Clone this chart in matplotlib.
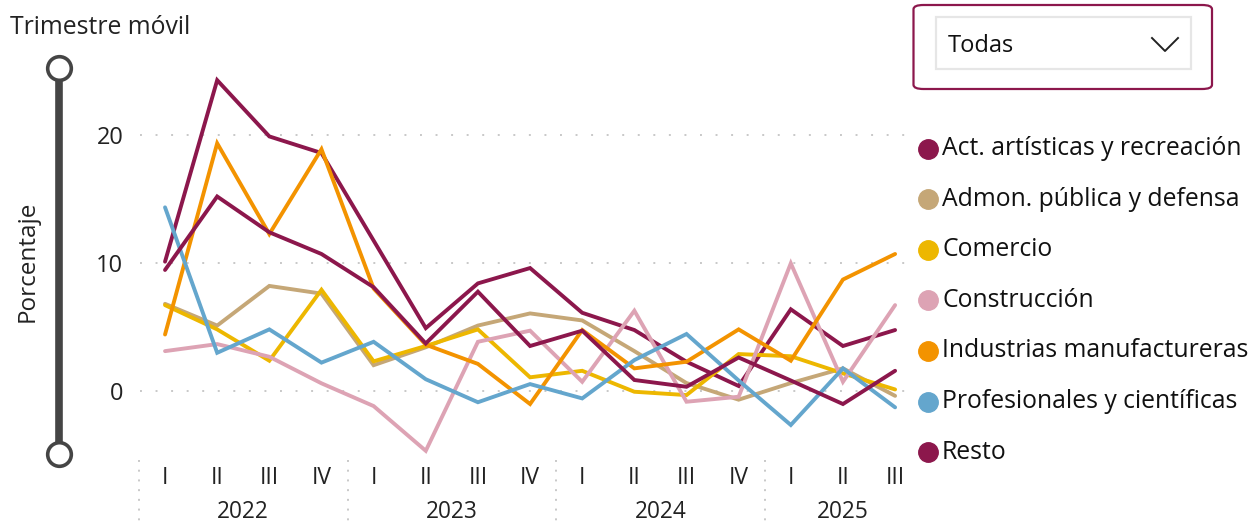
import numpy as np
import matplotlib
matplotlib.use("Agg")
from matplotlib import pyplot as plt
from matplotlib.lines import Line2D
from matplotlib.patches import FancyBboxPatch, Rectangle

plt.rcParams['font.family'] = ['Open Sans', 'DejaVu Sans']

quarters = ['I', 'II', 'III', 'IV'] * 3 + ['I', 'II', 'III']
years = ['2022', '2023', '2024', '2025']

act = [10.1, 24.3, 19.9, 18.6, 11.75, 4.9, 8.4, 9.6, 6.1, 4.75, 2.27, 0.37, 6.37, 3.5, 4.75]
admon = [6.8, 5.1, 8.2, 7.6, 2.0, 3.4, 5.1, 6.05, 5.5, 3.1, 0.6, -0.7, 0.6, 1.75, -0.4]
comercio = [6.7, 4.8, 2.35, 7.9, 2.3, 3.5, 4.8, 1.05, 1.56, -0.08, -0.34, 2.87, 2.7, 1.36, 0.1]
construccion = [3.1, 3.65, 2.66, 0.58, -1.2, -4.7, 3.83, 4.7, 0.7, 6.26, -0.86, -0.47, 9.97, 0.7, 6.7]
industrias = [4.4, 19.36, 12.26, 18.9, 8.0, 3.6, 2.1, -1.04, 4.75, 1.75, 2.27, 4.8, 2.35, 8.7, 10.7]
profesionales = [14.35, 2.97, 4.8, 2.2, 3.83, 0.9, -0.9, 0.52, -0.6, 2.4, 4.44, 0.8, -2.68, 1.75, -1.3]
resto = [9.45, 15.2, 12.4, 10.7, 8.1, 3.7, 7.75, 3.5, 4.7, 0.84, 0.31, 2.6, 0.8, -1.04, 1.56]

names = ['Act. artísticas y recreación', 'Admon. pública y defensa', 'Comercio',
         'Construcción', 'Industrias manufactureras', 'Profesionales y científicas', 'Resto']
series = [act, admon, comercio, construccion, industrias, profesionales, resto]
colors = ['#8C174C', '#C5A777', '#EDB700', '#DDA3B4', '#F39300', '#64A6CD', '#8C174C']

W, H = 1250, 526
fig = plt.figure(figsize=(W / 100, H / 100), dpi=100)


def fx(px):
    return px / W


def fy(py):
    return 1 - py / H


# plot area in pixels: x 140..917, y 60..460
ax = fig.add_axes([fx(140), fy(460), fx(917) - fx(140), fy(60) - fy(460)])
x = np.arange(len(quarters))
for s, c in zip(series, colors):
    ax.plot(x, s, color=c, lw=2.8, solid_joinstyle='miter', solid_capstyle='round')

ax.set_xlim(-0.48, 14.42)
ax.set_ylim(-5.42, 25.88)
ax.set_yticks([0, 10, 20])
ax.set_yticklabels(['0', '10', '20'], fontsize=17, color='#222222')
ax.tick_params(axis='y', length=0, pad=12)
ax.set_xticks(x)
ax.set_xticklabels(quarters, fontsize=16.5, color='#222222')
ax.tick_params(axis='x', length=0, pad=4)
for yv in [0, 10, 20]:
    ax.axhline(yv, color='#c8c8c8', lw=1.4, ls=(0, (1, 7)), zorder=0)
for sp in ax.spines.values():
    sp.set_visible(False)

# year labels and separators
for k, yr in enumerate(years):
    n = 4 if k < 3 else 3
    ax.text(4 * k + (n - 1) / 2, -0.13, yr, transform=ax.get_xaxis_transform(),
            ha='center', va='center', fontsize=16.3, color='#222222')
    ax.plot([4 * k - 0.5, 4 * k - 0.5], [0, -0.17], transform=ax.get_xaxis_transform(),
            color='#c8c8c8', lw=1.4, ls=(0, (1, 4)), clip_on=False)

# slider on the left
fig.add_artist(Line2D([fx(58.5), fx(58.5)], [fy(68), fy(454)], color='#454545', lw=5.5,
                      solid_capstyle='butt'))
for cy in [68, 454]:
    fig.add_artist(Line2D([fx(58.5)], [fy(cy)], marker='o', ms=17, mfc='white',
                          mec='#454545', mew=2.6, ls='none'))
fig.text(fx(10), fy(27), 'Trimestre móvil', ha='left', va='center', fontsize=17.8, color='#222222')
fig.text(fx(28), fy(261), 'Porcentaje', ha='center', va='center', rotation=90,
         fontsize=17.5, color='#222222')

# dropdown
fig.add_artist(FancyBboxPatch((fx(913.5), fy(89)), fx(1212) - fx(913.5), fy(5) - fy(89),
                              boxstyle='round,pad=0,rounding_size=0.008',
                              transform=fig.transFigure, fc='white', ec='#8C174C', lw=1.6))
fig.add_artist(Rectangle((fx(936), fy(69)), fx(1190.5) - fx(936), fy(17) - fy(69),
                         transform=fig.transFigure, fc='white', ec='#e6e6e6', lw=1.6))
fig.text(fx(948), fy(46), 'Todas', ha='left', va='center', fontsize=17, color='#111111')
fig.add_artist(Line2D([fx(1152), fx(1165), fx(1178)], [fy(38), fy(51), fy(38)],
                      color='#222222', lw=1.4))

# legend
for i, (nm, c) in enumerate(zip(names, colors)):
    yy = 148.5 + i * 50.6
    fig.add_artist(Line2D([fx(928)], [fy(yy)], marker='o', ms=14, mfc=c, mec=c, ls='none'))
    fig.text(fx(942), fy(yy), nm, ha='left', va='center', fontsize=17.8, color='#111111')

fig.savefig('out.png', dpi=100)
